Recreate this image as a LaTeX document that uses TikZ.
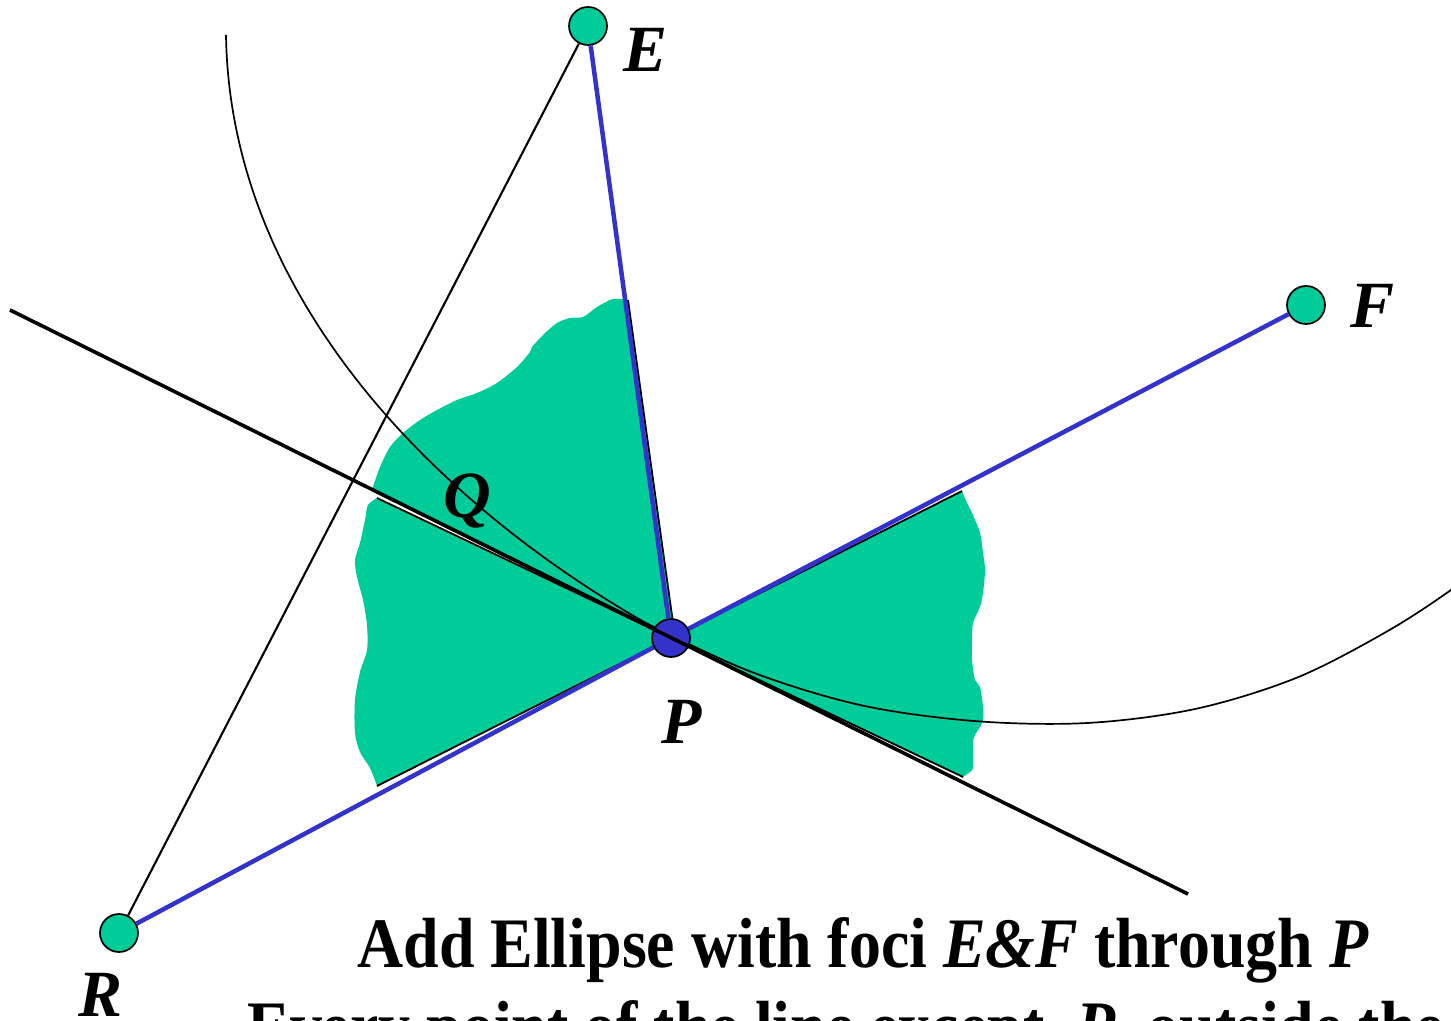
\documentclass[tikz,border=0pt]{standalone}
\usepackage{fontspec}
\setmainfont{Liberation Serif}
\usepackage{graphicx}
\definecolor{sea}{HTML}{00CC99}
\definecolor{ink}{HTML}{3333CC}
\begin{document}
\begin{tikzpicture}[x=0.5pt,y=-0.5pt,
  foc/.style={circle,draw=black,line width=0.85pt,fill=sea,minimum size=19pt,inner sep=0pt},
  wedgeline/.style={black,line width=0.9pt},
  curveline/.style={black,line width=0.85pt},
  thinline/.style={black,line width=1.05pt},
  blueline/.style={ink,line width=2.25pt},
  tangentline/.style={black,line width=1.8pt},
  lab/.style={font=\fontsize{33}{40}\selectfont\bfseries\itshape,inner sep=0pt,anchor=base},
  captext/.style={inner sep=0pt,anchor=base west}]
\useasboundingbox (0,0) rectangle (1451,1021);
\begin{scope}
\clip (0,0) rectangle (1451,1021);
\coordinate (pE) at (588,26);
\coordinate (pF) at (1306,305);
\coordinate (pR) at (119,933);
\coordinate (pP) at (671,638);
\coordinate (T1) at (10,310);
\coordinate (T2) at (1188,894);
% green wedges
\fill[sea] (pP) -- (372,489.6) -- plot[smooth,tension=0.5] coordinates {(372,489.6) (380,467) (390,447) (403,433) (420,420) (437,410) (457,400) (477,393) (497,383) (517,367) (530,352) (532,347) (543,335) (557,323) (570,318) (583,317) (597,307) (613,299) (628,300)} -- (674,630) -- cycle;
\fill[sea] (pP) -- (377,498) -- plot[smooth,tension=0.5] coordinates {(377,498) (368,505) (365,520) (360,543) (355,560) (357,577) (363,600) (367,625) (367,650) (360,672) (355,700) (355,733) (360,752) (370,768) (377,786)} -- cycle;
\fill[sea] (pP) -- (962,491) -- plot[smooth,tension=0.5] coordinates {(962,491) (967,503) (972,513) (980,533) (983,553) (985,570) (983,593) (980,607) (973,623) (972,640) (972,660) (975,680) (980,687) (983,707) (983,720) (980,727) (975,735) (973,743) (973,767) (970,772) (963,777)} -- cycle;
% wedge edges
\draw[wedgeline] (628,300) -- (674,630);
\draw[wedgeline] (377,498) -- (pP);
\draw[wedgeline] (377,786) -- (pP);
\draw[wedgeline] (962,491) -- (pP);
\draw[wedgeline] (963,777) -- (pP);
% ellipse arc
\draw[curveline] (226,35) .. controls (230,300) and (440,505) .. (644,622)
  plot[smooth,tension=0.55] coordinates {(644,622) (749,671) (860,705) (974,721) (1087,723) (1195,709) (1296,678) (1386,632) (1451,590) (1500,552)};
% points
\node[foc] (E) at (pE) {};
\node[foc] (F) at (pF) {};
\node[foc] (R) at (pR) {};
\node[foc,fill=ink] (P) at (pP) {};
% connectors
\draw[thinline] (R) -- (E);
\draw[blueline] (E) -- (P);
\draw[blueline] (F) -- (P);
\draw[blueline] (R) -- (P);
\draw[tangentline] (T1) -- (T2);
% labels
\node[lab] (lE) at (646,72) {E};
\node[lab] (lF) at (1372,328) {F};
\node[lab] (lR) at (101,1016) {R};
\node[lab] (lP) at (682,743) {P};
\node[lab] (lQ) at (467,517) {Q};
\node[captext] (cap1) at (357,967) {\scalebox{0.9}[1]{\fontsize{35.5}{42}\selectfont\bfseries Add Ellipse with foci \textit{E\&F} through \textit{P}}};
\node[captext] (cap2) at (247,1050) {\scalebox{0.9}[1]{\fontsize{35.5}{42}\selectfont\bfseries Every point of the line except\ \ \textit{P}\ \ outside the}};
\end{scope}
\end{tikzpicture}
\end{document}
